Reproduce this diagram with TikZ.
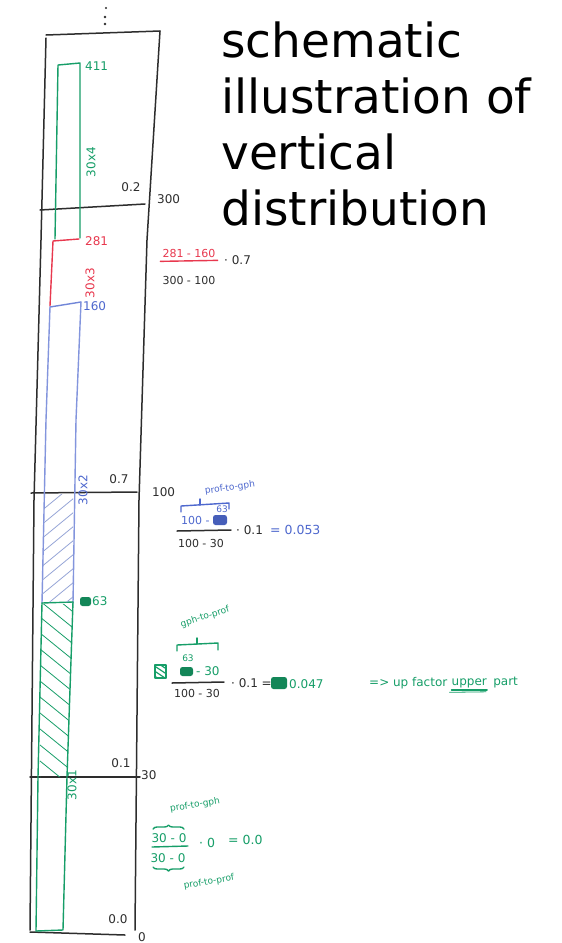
\documentclass[tikz,border=0pt]{standalone}
\usepackage{fontspec}
\setmainfont{DejaVu Sans}
\usetikzlibrary{positioning,decorations.pathreplacing}
\definecolor{penclr}{RGB}{45,45,45}
\definecolor{grnclr}{RGB}{22,158,104}
\definecolor{redclr}{RGB}{232,56,78}
\definecolor{bluclr}{RGB}{78,104,206}
\definecolor{hatchclr}{RGB}{150,165,215}

\tikzset{
  pen/.style={draw=penclr, line width=1.5pt, line cap=round, line join=round},
  ink/.style={line width=1.4pt, line cap=round, line join=round},
  lbl/.style={inner sep=0pt, text=penclr, font=\fontsize{12}{13}\selectfont},
  fml/.style={inner sep=0pt, text=penclr, font=\fontsize{11}{12}\selectfont},
  tag/.style={inner sep=0pt, font=\fontsize{9}{10}\selectfont},
  blot/.style={rounded corners=2.5pt},
}

\begin{document}
\begin{tikzpicture}[x=1pt,y=-1pt]
  \useasboundingbox (0,0) rectangle (562,943);
  \fill[white] (0,0) rectangle (562,943);

  \node[anchor=north west, align=left, inner sep=0pt, font=\fontsize{47}{56}\selectfont]
    (title) at (221,22) {schematic\\illustration of\\vertical\\distribution};

  \fill[penclr] (106,8) circle (1.1pt) (105,17) circle (1.3pt) (105,24) circle (1.3pt);
  \draw[pen] (46,35) -- (160,31);
  \draw[pen] (46,38) -- (41,240) -- (34,500) -- (30,930);
  \draw[pen] (160,31) -- (147,240) -- (139,500) -- (135,930);
  \draw[pen] (30,932) -- (125,935);
  \draw[pen] (40,210) -- (145,204);
  \draw[pen] (31,493) -- (137,492);
  \draw[pen] (30,777) -- (140,777);

  \draw[ink, grnclr] (55,239) -- (58,65) -- (80,63) -- (80,238);
  \draw[ink, redclr] (79,239) -- (53,241) -- (50,306);
  \draw[ink, bluclr!80!white] (50,307) -- (81,302);
  \draw[ink, bluclr!70!white] (50,307) -- (46,420) -- (42,603);
  \draw[ink, bluclr!70!white] (81,302) -- (76,420) -- (73,603);
  \draw[ink, grnclr] (42,603) -- (73,602);
  \draw[ink, grnclr] (42,603) -- (38,777) -- (36,931) -- (63,930) -- (67,777) -- (73,602);

  \begin{scope}
    \clip (45,494) -- (73,494) -- (73,602) -- (42,602) -- cycle;
    \foreach \y in {470,484,...,610}
      \draw[hatchclr, line width=0.8pt] (40,\y+28) -- (74,\y);
  \end{scope}
  \begin{scope}
    \clip (42,604) -- (73,604) -- (67,777) -- (38,777) -- cycle;
    \foreach \y in {585,601,...,780}
      \draw[grnclr, line width=0.8pt] (40,\y) -- (72,\y+26);
  \end{scope}

  \node[lbl, text=grnclr, anchor=west] (n411) at (85,66) {411};
  \node[lbl, text=grnclr, rotate=90] (n30x4) at (91,162) {30x4};
  \node[lbl] (v02) at (131,187) {0.2};
  \node[lbl, anchor=west] (d300) at (157,199) {300};
  \node[lbl, text=redclr, anchor=west] (n281) at (85,241) {281};
  \node[lbl, text=redclr, rotate=90] (n30x3) at (90,283) {30x3};
  \node[lbl, text=bluclr, anchor=west] (n160) at (83,306) {160};
  \node[lbl, text=bluclr, rotate=90] (n30x2) at (83,490) {30x2};
  \node[lbl] (v07) at (119,479) {0.7};
  \node[lbl, anchor=west] (d100) at (152,492) {100};
  \fill[grnclr!85!black, blot] (80,597) rectangle (91,606);
  \node[lbl, text=grnclr, anchor=west] (n63) at (92,601) {63};
  \node[lbl] (v01) at (121,763) {0.1};
  \node[lbl, anchor=west] (d30) at (141,775) {30};
  \node[lbl, text=grnclr, rotate=90] (n30x1) at (72,785) {30x1};
  \node[lbl] (v00) at (118,919) {0.0};
  \node[lbl, anchor=west] (d0) at (138,937) {0};

  \node[fml, text=redclr] (f1num) at (189,253) {281 - 160};
  \node[fml] (f1den) at (189,280) {300 - 100};
  \draw[ink, redclr] ([xshift=-2pt,yshift=-4pt]f1num.south west) -- ([xshift=2pt,yshift=-3pt]f1num.south east);
  \node[fml, anchor=west, font=\fontsize{12}{13}\selectfont] (f1mul) at (224,260) {· 0.7};

  \node[tag, text=bluclr, rotate=8] (f2tag) at (230,488) {prof-to-gph};
  \draw[ink, bluclr] (181,512) -- (181,506) -- (229,503) -- (229,509);
  \draw[ink, bluclr] (200,505) -- (200,499);
  \node[fml, text=bluclr, anchor=west] (f2num) at (181,520) {100 -};
  \fill[bluclr!90!black, blot] (213,515) rectangle (227,525);
  \node[tag, text=bluclr] (f2fix) at (222,509) {63};
  \node[fml] (f2den) at (201,543) {100 - 30};
  \draw[pen] (177,531) -- (231,530);
  \node[fml, anchor=west, font=\fontsize{12}{13}\selectfont] (f2mul) at (236,530) {· 0.1};
  \node[fml, text=bluclr, anchor=west, font=\fontsize{12.5}{13}\selectfont] (f2res) at (270,530) {= 0.053};

  \node[tag, text=grnclr, rotate=18] (f3tag) at (205,617) {gph-to-prof};
  \draw[ink, grnclr] (177,651) -- (177,645) -- (218,643) -- (218,650);
  \draw[ink, grnclr] (197,644) -- (197,638);
  \node[tag, text=grnclr] (f3fix) at (188,658) {63};
  \fill[grnclr!85!black, blot] (180,667) rectangle (193,676);
  \node[fml, text=grnclr, anchor=west, font=\fontsize{12}{13}\selectfont] (f3num) at (196,671) {- 30};
  \draw[pen] (172,683) -- (224,682);
  \node[fml] (f3den) at (197,693) {100 - 30};
  \draw[ink, grnclr] (155,665) rectangle (166,678);
  \begin{scope}
    \clip (155,665) rectangle (166,678);
    \foreach \y in {660,665,...,680}
      \draw[grnclr, line width=1.2pt] (153,\y) -- (168,\y+10);
  \end{scope}
  \node[fml, anchor=west, font=\fontsize{12}{13}\selectfont] (f3mul) at (231,683) {· 0.1 =};
  \fill[grnclr!85!black, blot] (271,677) rectangle (287,689);
  \node[fml, text=grnclr, anchor=west, font=\fontsize{12}{13}\selectfont] (f3res) at (289,684) {0.047};
  \node[fml, text=grnclr, anchor=west, font=\fontsize{12}{13}\selectfont] (f3note) at (369,683) {=> up factor};
  \node[fml, text=grnclr, right=4pt of f3note, font=\fontsize{12}{13}\selectfont] (f3upper) {upper};
  \node[fml, text=grnclr, right=6pt of f3upper, font=\fontsize{12}{13}\selectfont] (f3part) {part};
  \draw[ink, grnclr] ([yshift=-2pt]f3upper.south west) -- ([yshift=-2pt]f3upper.south east);
  \draw[ink, grnclr, line width=0.8pt] ([xshift=-2pt,yshift=-4.5pt]f3upper.south west) -- ([xshift=-1pt,yshift=-4pt]f3upper.south east);

  \node[tag, text=grnclr, rotate=10] (f4tag) at (195,805) {prof-to-gph};
  \draw[ink, grnclr, decorate, decoration={brace, amplitude=4pt}] (153,829) -- (184,829);
  \node[fml, text=grnclr, font=\fontsize{12}{13}\selectfont] (f4num) at (169,838) {30 - 0};
  \draw[ink, grnclr] (152,847) -- (188,846);
  \node[fml, text=grnclr, font=\fontsize{12}{13}\selectfont] (f4den) at (168,858) {30 - 0};
  \draw[ink, grnclr, decorate, decoration={brace, amplitude=4pt}] (184,867) -- (153,867);
  \node[fml, text=grnclr, anchor=west, font=\fontsize{12.5}{13}\selectfont] (f4mul) at (199,843) {· 0};
  \node[fml, text=grnclr, anchor=west, font=\fontsize{12.5}{13}\selectfont] (f4res) at (228,840) {= 0.0};
  \node[tag, text=grnclr, rotate=10] (f4low) at (209,882) {prof-to-prof};
\end{tikzpicture}
\end{document}
